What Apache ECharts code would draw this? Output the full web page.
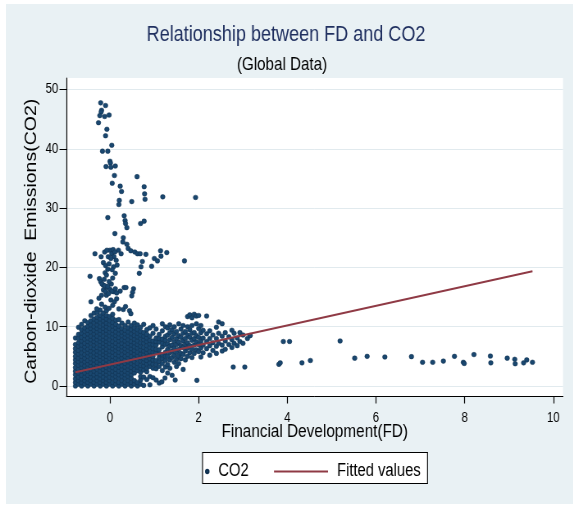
<!DOCTYPE html>
<html>
<head>
<meta charset="utf-8">
<script src="https://cdn.jsdelivr.net/npm/echarts@6/dist/echarts.min.js"></script>
<style>
  html, body { margin: 0; padding: 0; background: #ffffff; overflow: hidden; }
  #frame { position: absolute; left: 6px; top: 4px; width: 567px; height: 500px; background: #e9f1f4; }
  /* the graph is laid out on a wider canvas and squeezed horizontally */
  #chart { position: absolute; left: 0; top: 0; width: 699px; height: 505px;
           transform: scaleX(0.82); transform-origin: 0 0; }
</style>
</head>
<body>
<div id="frame"></div>
<div id="chart"></div>
<script>
// Tick positions on both axes
const xTicks = [0, 2, 4, 6, 8, 10];
const yTicks = [0, 10, 20, 30, 40, 50];

// Dense core of observations: each entry is [FD, list of CO2 values at that FD]
const coreColumns = [
  [-0.78, [0.0, 0.6, 1.2, 1.9, 2.5, 3.1, 3.8, 4.4, 5.0, 5.7, 6.3, 7.0, 8.1]],
  [-0.71, [0.3, 0.9, 1.5, 2.2, 2.8, 3.5, 4.1, 4.7, 5.4, 6.0, 6.7, 7.3, 8.0, 8.7, 9.9]],
  [-0.64, [0.0, 0.6, 1.2, 1.8, 2.5, 3.1, 3.7, 4.4, 5.0, 5.6, 6.3, 6.9, 7.6, 8.2, 8.9, 9.5, 10.4]],
  [-0.57, [0.3, 0.9, 1.5, 2.2, 2.8, 3.4, 4.1, 4.7, 5.3, 6.0, 6.6, 7.2, 7.9, 8.5, 9.2, 9.8, 11.0]],
  [-0.50, [0.0, 0.6, 1.2, 1.8, 2.5, 3.1, 3.7, 4.3, 5.0, 5.6, 6.2, 6.9, 7.5, 8.1, 8.8, 9.4, 10.1, 10.7]],
  [-0.43, [0.3, 0.9, 1.5, 2.1, 2.8, 3.4, 4.0, 4.6, 5.3, 5.9, 6.5, 7.2, 7.8, 8.4, 9.1, 9.7, 10.3, 11.0, 11.9]],
  [-0.36, [0.0, 0.6, 1.2, 1.9, 2.5, 3.1, 3.7, 4.4, 5.0, 5.6, 6.3, 6.9, 7.5, 8.1, 8.8, 9.4, 10.0, 10.7, 11.3, 12.3]],
  [-0.29, [0.3, 0.9, 1.5, 2.1, 2.8, 3.4, 4.0, 4.7, 5.3, 5.9, 6.5, 7.2, 7.8, 8.4, 9.1, 9.7, 10.3, 11.0, 11.6, 12.4]],
  [-0.22, [0.0, 0.6, 1.2, 1.9, 2.5, 3.1, 3.7, 4.4, 5.0, 5.6, 6.3, 6.9, 7.5, 8.1, 8.8, 9.4, 10.0, 10.7, 11.3, 11.9, 12.8]],
  [-0.15, [0.3, 0.9, 1.5, 2.2, 2.8, 3.4, 4.0, 4.7, 5.3, 5.9, 6.6, 7.2, 7.8, 8.4, 9.1, 9.7, 10.3, 11.0, 11.6, 12.3]],
  [-0.08, [0.0, 0.6, 1.2, 1.9, 2.5, 3.1, 3.7, 4.4, 5.0, 5.6, 6.2, 6.9, 7.5, 8.1, 8.8, 9.4, 10.0, 10.6, 11.3, 11.9, 12.7]],
  [-0.01, [0.3, 0.9, 1.5, 2.2, 2.8, 3.4, 4.0, 4.7, 5.3, 5.9, 6.6, 7.2, 7.8, 8.5, 9.1, 9.7, 10.4, 11.0, 11.7]],
  [0.06, [0.0, 0.6, 1.3, 1.9, 2.5, 3.1, 3.8, 4.4, 5.0, 5.7, 6.3, 6.9, 7.5, 8.2, 8.8, 9.4, 10.1, 10.7, 11.4, 12.1]],
  [0.13, [0.3, 0.9, 1.6, 2.2, 2.8, 3.5, 4.1, 4.7, 5.3, 6.0, 6.6, 7.2, 7.9, 8.5, 9.1, 9.8, 10.4, 11.1]],
  [0.20, [0.0, 0.6, 1.3, 1.9, 2.5, 3.2, 3.8, 4.4, 5.1, 5.7, 6.3, 6.9, 7.6, 8.2, 8.8, 9.5, 10.1, 11.2]],
  [0.27, [0.3, 0.9, 1.6, 2.2, 2.8, 3.4, 4.1, 4.7, 5.3, 6.0, 6.6, 7.2, 7.8, 8.5, 9.1, 9.7, 10.6]],
  [0.34, [0.0, 0.6, 1.3, 1.9, 2.5, 3.2, 3.8, 4.4, 5.0, 5.7, 6.3, 6.9, 7.6, 8.2, 8.8, 9.4, 10.2]],
  [0.41, [0.3, 0.9, 1.6, 2.2, 2.8, 3.4, 4.1, 4.7, 5.3, 6.0, 6.6, 7.2, 7.8, 8.5, 9.1, 9.8, 10.8]],
  [0.48, [0.0, 0.6, 1.3, 1.9, 2.5, 3.1, 3.8, 4.4, 5.0, 5.7, 6.3, 6.9, 7.5, 8.2, 8.8, 9.5, 10.2]],
  [0.55, [0.3, 0.9, 2.2, 2.8, 3.5, 4.1, 4.7, 5.4, 6.0, 6.6, 7.3, 7.9, 8.5, 9.2, 9.8, 10.6]],
  [0.62, [0.0, 0.6, 2.6, 3.2, 3.8, 4.5, 5.1, 5.7, 6.4, 7.0, 7.6, 8.3, 8.9, 9.5, 10.3]],
  [0.69, [0.3, 1.0, 1.6, 2.3, 2.9, 3.5, 4.2, 4.8, 5.4, 6.1, 6.7, 7.3, 8.0, 8.6, 9.2, 9.9]],
  [0.76, [0.1, 1.5, 2.7, 3.4, 4.0, 4.6, 5.3, 5.9, 6.5, 7.2, 7.8, 8.4, 9.0, 10.4]],
  [0.83, [1.1, 2.4, 3.0, 3.7, 4.3, 4.9, 5.6, 6.2, 6.8, 7.5, 8.1, 8.7, 9.5]],
  [0.90, [0.2, 1.6, 3.3, 3.9, 4.6, 5.2, 5.8, 6.5, 7.1, 7.7, 8.4, 9.8]],
  [0.97, [1.4, 3.0, 3.7, 4.4, 5.0, 5.7, 6.3, 7.0, 7.6, 8.9, 10.2]],
  [1.04, [1.0, 2.9, 3.6, 4.3, 5.6, 6.2, 6.9, 7.5, 8.1, 9.6]],
  [1.11, [0.5, 3.3, 4.1, 4.8, 5.4, 6.1, 7.4, 8.0, 8.7]],
  [1.18, [2.6, 3.8, 4.6, 5.3, 6.6, 7.2, 7.9, 9.3, 10.5]],
  [1.25, [3.2, 4.3, 5.0, 5.7, 7.0, 7.7, 8.4, 10.0]]
];

// Looser band of observations between FD 1.3 and 3.2
const bandColumns = [
  [1.30, [9.8, 8.6, 7.1, 6.2, 5.0, 3.6, 2.2]],
  [1.35, [10.3, 9.0, 7.8, 6.7, 5.6, 4.4, 3.0]],
  [1.40, [9.5, 8.2, 6.9, 5.9, 4.8, 1.8]],
  [1.45, [10.0, 8.8, 7.5, 6.4, 5.2, 4.0]],
  [1.50, [9.2, 8.0, 7.0, 5.7, 4.5, 3.3]],
  [1.55, [10.5, 8.5, 7.4, 6.2, 5.0, 3.8]],
  [1.60, [9.6, 8.2, 6.8, 5.5, 4.6]],
  [1.65, [10.2, 8.9, 7.6, 6.5, 5.3, 2.8]],
  [1.70, [9.2, 8.0, 7.0, 5.9, 4.4]],
  [1.75, [11.7, 10.0, 8.6, 7.3, 6.4, 5.0]],
  [1.80, [12.0, 9.5, 8.2, 6.8, 5.6]],
  [1.85, [11.5, 10.2, 8.9, 7.7, 6.2, 4.8]],
  [1.90, [12.1, 9.0, 8.0, 6.9, 5.5]],
  [1.95, [11.8, 10.5, 8.5, 7.4, 6.1]],
  [2.00, [11.9, 9.7, 8.2, 7.0, 5.8]],
  [2.05, [10.2, 9.0, 7.6, 6.4, 4.9]],
  [2.10, [9.4, 8.1, 6.9, 5.6]],
  [2.18, [11.8, 8.8, 7.5, 6.3]],
  [2.25, [9.3, 8.0, 6.8, 5.2]],
  [2.32, [8.6, 7.3, 6.0]],
  [2.40, [9.9, 8.0, 6.7, 5.5]],
  [2.45, [10.8, 8.9, 7.2]],
  [2.53, [10.5, 8.4, 6.9, 5.9]],
  [2.60, [9.0, 7.6, 6.2]],
  [2.68, [8.3, 7.0]],
  [2.75, [9.4, 7.8, 6.5]],
  [2.80, [8.9, 7.2]],
  [2.87, [8.1, 6.8]],
  [2.93, [9.0, 7.5]],
  [3.00, [8.6, 7.2]],
  [3.10, [8.0]],
  [3.16, [8.5]]
];

// High-emission observations rising above the core
const upperPoints = [
  [-0.21, 47.75], [-0.10, 47.3], [-0.19, 46.5], [-0.20, 46.2], [-0.23, 45.6], [-0.12, 45.45],
  [-0.02, 45.7], [-0.26, 44.4], [-0.07, 43.3], [-0.10, 42.2], [0.04, 40.6], [-0.17, 39.6],
  [-0.05, 39.6], [0.00, 37.9], [0.01, 37.6], [-0.09, 37.0], [0.02, 36.9], [0.12, 37.1],
  [0.10, 35.5], [0.61, 35.3], [0.05, 34.2], [0.23, 33.7], [0.26, 32.8], [0.77, 33.6],
  [0.78, 32.4], [0.79, 31.5], [0.21, 31.3], [0.20, 30.6], [0.49, 31.1], [1.19, 31.9],
  [1.93, 31.8], [-0.05, 28.4], [0.32, 28.7], [0.34, 27.9], [0.35, 27.4], [0.38, 26.7],
  [0.69, 27.4], [0.77, 27.8], [0.11, 25.7], [0.30, 25.0], [0.29, 24.3], [0.38, 23.9],
  [0.41, 23.2], [-0.34, 22.3], [-0.20, 21.8], [0.00, 22.9], [0.07, 23.0], [0.04, 22.3],
  [0.09, 21.8], [-0.04, 21.8], [0.19, 22.9], [0.25, 22.3], [0.47, 22.8], [0.56, 22.6],
  [0.62, 22.3], [0.68, 22.3], [0.81, 22.2], [1.14, 22.8], [1.28, 22.5], [1.15, 21.9],
  [1.00, 21.5], [1.07, 21.1], [0.94, 20.2], [1.68, 21.1], [-0.15, 20.8], [-0.10, 20.3],
  [0.08, 20.1], [0.73, 21.0], [0.70, 20.1], [0.66, 19.0], [-0.11, 19.1], [-0.08, 18.7],
  [-0.45, 18.5], [-0.24, 18.1], [-0.21, 17.6], [-0.15, 17.0], [-0.08, 16.6], [0.00, 16.3],
  [-0.15, 16.2], [0.08, 15.9], [-0.19, 15.3], [-0.08, 15.3], [0.23, 16.0], [0.32, 16.6],
  [0.36, 16.6], [0.53, 16.4], [0.51, 15.8], [0.49, 15.2], [0.02, 14.5], [0.10, 14.2],
  [-0.43, 14.2], [-0.19, 13.8], [-0.11, 13.3], [0.44, 12.7], [0.47, 12.2],
  [-0.18, 17.2], [-0.12, 16.9], [-0.05, 16.8], [0.03, 17.2], [-0.10, 15.9], [0.04, 16.0],
  [-0.03, 15.6], [0.12, 16.4], [0.15, 15.7], [-0.13, 18.0], [-0.02, 17.6], [0.06, 18.2],
  [-0.12, 22.6], [-0.07, 22.9], [0.02, 21.5], [0.11, 22.6], [0.14, 21.2], [-0.02, 20.6],
  [0.16, 20.4], [0.05, 19.6], [-0.05, 19.7], [0.12, 19.0],
  [-0.30, 13.0], [-0.02, 13.1], [0.06, 13.6], [0.20, 13.0], [0.30, 12.9], [-0.25, 14.8],
  [0.15, 14.7], [0.35, 13.4]
];

// Scattered observations at higher financial development
const tailPoints = [
  [1.17, 0.7], [1.24, 1.35], [1.47, 1.0], [1.96, 0.95], [2.78, 3.2], [3.04, 3.2],
  [3.16, 8.5], [3.81, 3.65], [3.84, 3.9], [3.91, 7.5], [4.05, 7.5], [4.33, 3.9],
  [4.52, 4.3], [5.19, 7.6], [5.52, 4.7], [5.80, 5.0], [6.20, 4.9], [6.80, 4.95],
  [7.05, 4.0], [7.28, 4.0], [7.52, 4.2], [7.77, 5.0], [7.97, 4.0], [7.99, 3.8],
  [8.21, 5.3], [8.58, 5.05], [8.59, 3.9], [8.96, 4.7], [9.13, 4.5], [9.14, 3.75],
  [9.33, 3.9], [9.40, 4.4], [9.53, 4.0]
];

// Linear fit endpoints (FD range of the data)
const fitFD = [-0.78, 9.53];
const fitCO2 = [2.32, 19.36];

const co2Points = [];
coreColumns.concat(bandColumns).forEach(function (col) {
  col[1].forEach(function (v) { co2Points.push([col[0], v]); });
});
upperPoints.concat(tailPoints).forEach(function (p) { co2Points.push(p); });
const fitPoints = fitFD.map(function (x, i) { return [x, fitCO2[i]]; });

// horizontal squeeze applied to the canvas by CSS
const SQ = 0.82;
const sans = "'Liberation Sans', Arial, sans-serif";

const chart = echarts.init(document.getElementById('chart'), null, { renderer: 'canvas' });
chart.setOption({
  backgroundColor: 'transparent',
  animation: false,
  title: [
    {
      text: 'Relationship between FD and CO2',
      left: 286 / SQ, top: 24, textAlign: 'center', padding: 0,
      textStyle: { fontFamily: sans, fontSize: 22, fontWeight: 'normal', color: '#1f2f5f' }
    },
    {
      text: '(Global Data)',
      left: 282 / SQ, top: 55.5, textAlign: 'center', padding: 0,
      textStyle: { fontFamily: sans, fontSize: 18.5, fontWeight: 'normal', color: '#000000' }
    }
  ],
  grid: {
    left: 66.5 / SQ, top: 78, right: 12.4, bottom: 108.5,
    show: true, backgroundColor: '#ffffff', borderWidth: 0
  },
  xAxis: {
    type: 'value', min: -0.981, max: 10.219,
    name: 'Financial Development(FD)', nameLocation: 'middle', nameGap: 26, nameMoveOverlap: false,
    nameTextStyle: { fontFamily: sans, fontSize: 18.7, color: '#000' },
    axisLine: { show: true, onZero: false, lineStyle: { color: '#000', width: 1 } },
    axisTick: { show: true, length: 7, customValues: xTicks, lineStyle: { color: '#000', width: 1 / SQ } },
    axisLabel: { customValues: xTicks, margin: 15, fontFamily: sans, fontSize: 14, color: '#000' },
    splitLine: { show: false }
  },
  yAxis: {
    type: 'value', min: -1.771, max: 51.94,
    name: 'Carbon-dioxide  Emissions(CO2)', nameLocation: 'middle', nameGap: 32, nameMoveOverlap: false,
    nameTextStyle: { fontFamily: sans, fontSize: 19.5, color: '#000', padding: [0, 8, 0, 0] },
    axisLine: { show: true, onZero: false, lineStyle: { color: '#000', width: 1 / SQ } },
    axisTick: { show: true, length: 7 / SQ, customValues: yTicks, lineStyle: { color: '#000', width: 1 } },
    axisLabel: { customValues: yTicks, margin: 10, fontFamily: sans, fontSize: 14, color: '#000' },
    splitLine: { show: true, lineStyle: { color: '#e1eaee', width: 1 } }
  },
  legend: [
    {
      data: ['CO2'], left: 205 / SQ, top: 462.5, padding: 0, z: 5,
      icon: 'circle', itemWidth: 14 / SQ, itemHeight: 3.5,
      textStyle: { fontFamily: sans, fontSize: 18, color: '#000' }
    },
    {
      data: ['Fitted values'], left: 274 / SQ, top: 462.5, padding: 0, z: 5,
      icon: 'rect', itemWidth: 54 / SQ, itemHeight: 2.2,
      textStyle: { fontFamily: sans, fontSize: 18, color: '#000', padding: [0, 0, 0, 6] }
    }
  ],
  graphic: [
    {
      type: 'rect', z: 3, silent: true,
      shape: { x: 202.5 / SQ, y: 452.5, width: 225 / SQ, height: 31 },
      style: { fill: '#ffffff', stroke: '#000000', lineWidth: 1.1 }
    }
  ],
  series: [
    {
      name: 'CO2', type: 'scatter', data: co2Points, z: 2,
      symbol: 'circle', symbolSize: [4.6 / SQ, 4.6],
      itemStyle: { color: '#1a476f', borderColor: '#10304f', borderWidth: 0.5, opacity: 1 }
    },
    {
      name: 'Fitted values', type: 'line', data: fitPoints, z: 3,
      symbol: 'none', showSymbol: false,
      lineStyle: { color: '#8f3a45', width: 2 },
      itemStyle: { color: '#8f3a45' }
    }
  ]
});
</script>
</body>
</html>
